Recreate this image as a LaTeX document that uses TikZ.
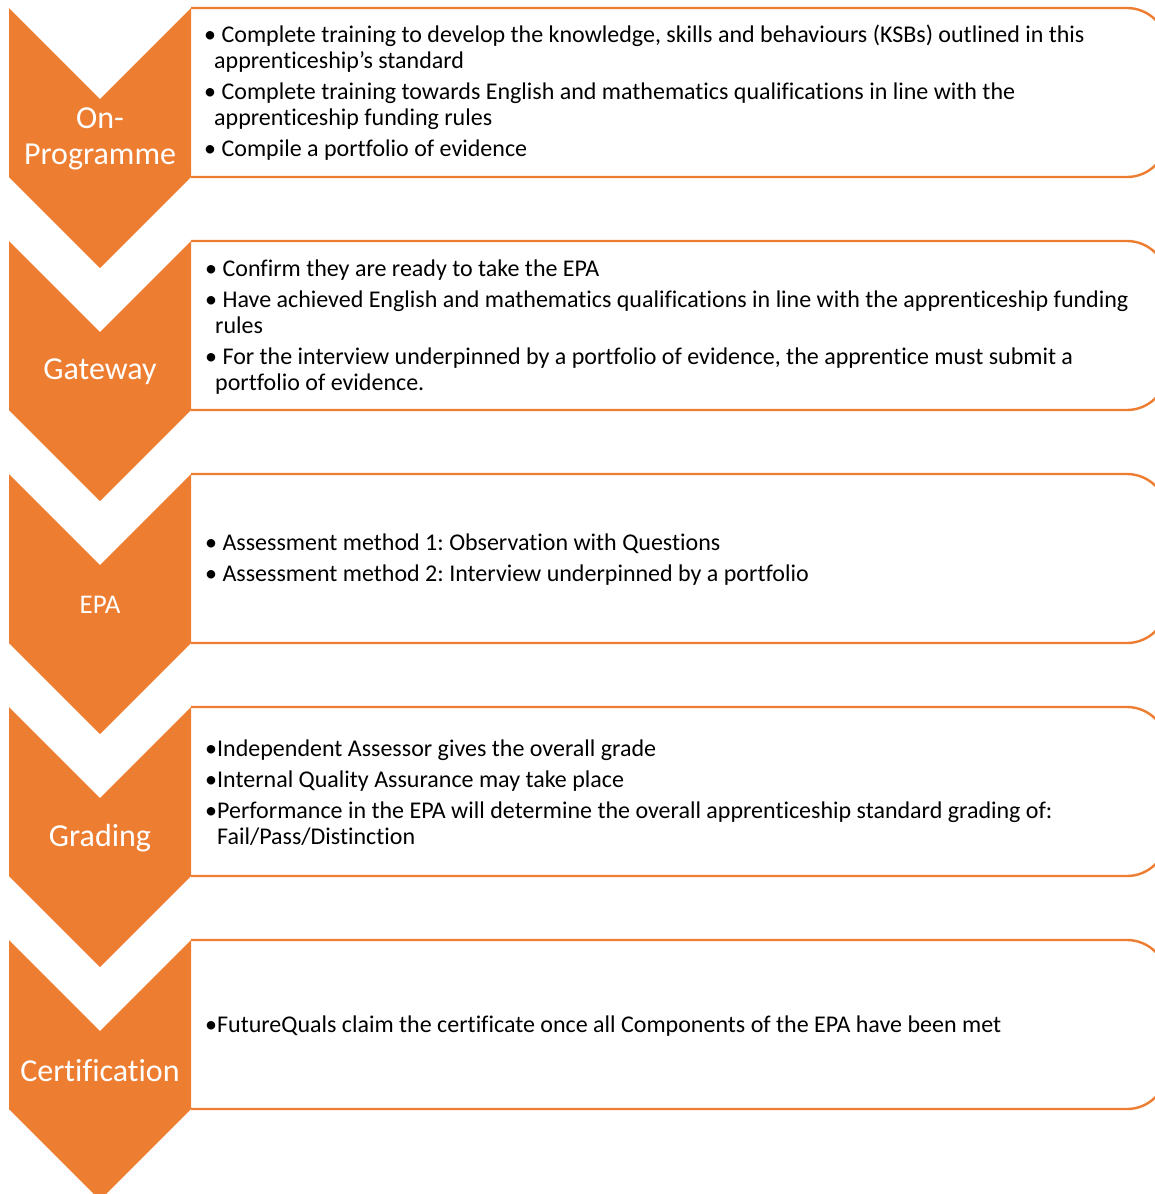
\documentclass[tikz,border=0pt]{standalone}
\usepackage{fontspec}
\setmainfont{Carlito}[Ligatures=NoCommon]
\frenchspacing
\definecolor{chev}{HTML}{ED7D31}
\tikzset{
  chevlabel/.style={text=white, font=\fontsize{32}{36}\selectfont, align=center, inner sep=0pt},
  boxtext/.style={text=black, font=\fontsize{24}{26}\selectfont, align=left, anchor=west, inner sep=0pt},
  listbox/.style={draw=chev, line width=2.4pt, rounded corners=40pt},
  chevshape/.style={fill=chev, draw=none}
}
\newcommand{\bl}{\textbullet\ }
\newcommand{\cn}{\hspace*{10pt}}
\newcommand{\bt}{\textbullet}
\newcommand{\ct}{\phantom{\textbullet}}
\begin{document}
\begin{tikzpicture}[x=1pt,y=-1pt]
\useasboundingbox (0,0) rectangle (1155,1194);
\clip (0,0) rectangle (1155,1194);
\foreach \t in {8,241,474,707,940}{
  \draw[listbox] (191,\t) -- (1167,\t) -- (1167,\t+169) -- (191,\t+169);
  \fill[chevshape] (9,\t) -- (100,\t+91) -- (191,\t) -- (191,\t+169) -- (100,\t+260) -- (9,\t+169) -- cycle;
}
\node[chevlabel] (l1) at (100,139) {On-\\Programme};
\node[chevlabel] (l2) at (100,372) {Gateway};
\node[chevlabel, font=\fontsize{27}{30}\selectfont] (l3) at (100,605) {EPA};
\node[chevlabel] (l4) at (100,838) {Grading};
\node[chevlabel] (l5) at (100,1071) {Certification};

\node[boxtext] (t1) at (204,93) {\bl Complete training to develop the knowledge, skills and behaviours (KSBs) outlined in this\\
\cn apprenticeship’s standard\\[5pt]
\bl Complete training towards English and mathematics qualifications in line with the\\
\cn apprenticeship funding rules\\[5pt]
\bl Compile a portfolio of evidence};
\node[boxtext] (t2) at (205,327) {\bl Confirm they are ready to take the EPA\\[5pt]
\bl Have achieved English and mathematics qualifications in line with the apprenticeship funding\\
\cn rules\\[5pt]
\bl For the interview underpinned by a portfolio of evidence, the apprentice must submit a\\
\cn portfolio of evidence.};
\node[boxtext] (t3) at (205,560) {\bl Assessment method 1: Observation with Questions\\[5pt]
\bl Assessment method 2: Interview underpinned by a portfolio};
\node[boxtext] (t4) at (205,793) {\bt Independent Assessor gives the overall grade\\[5pt]
\bt Internal Quality Assurance may take place\\[5pt]
\bt Performance in the EPA will determine the overall apprenticeship standard grading of:\\
\ct Fail/Pass/Distinction};
\node[boxtext] (t5) at (205,1026) {\bt FutureQuals claim the certificate once all Components of the EPA have been met};
\end{tikzpicture}
\end{document}
